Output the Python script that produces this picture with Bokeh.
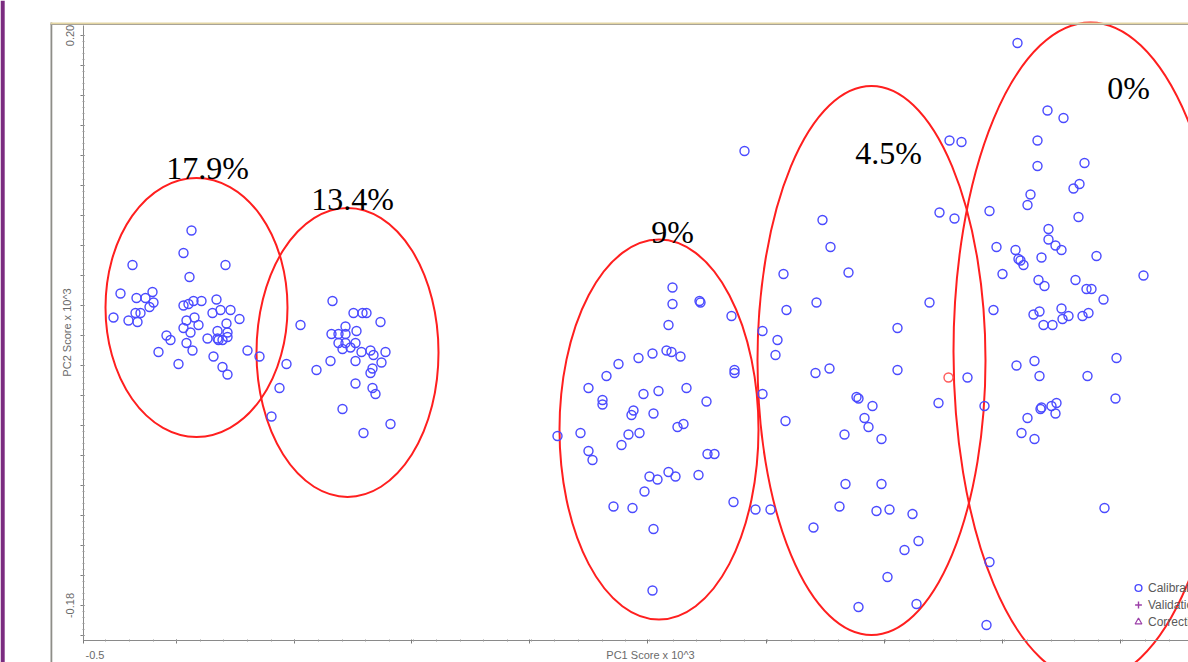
import numpy as np
from bokeh.plotting import figure
from bokeh.models import FixedTicker, BoxAnnotation, Legend, LegendItem, Range1d
from bokeh.embed import file_html
from bokeh.resources import INLINE
from bokeh.core.properties import value

# ---------------- data ----------------
calib_x = [
    -0.392, -0.400, -0.451, -0.358, -0.394, -0.463, -0.470, -0.447, -0.438, -0.431,
    -0.430, -0.434, -0.443, -0.448, -0.455, -0.446, -0.400, -0.395, -0.390, -0.382,
    -0.367, -0.371, -0.363, -0.353, -0.344, -0.397, -0.389, -0.385, -0.400, -0.393,
    -0.357, -0.366, -0.356, -0.417, -0.413, -0.376, -0.365, -0.361, -0.356, -0.366,
    -0.397, -0.391, -0.425, -0.405, -0.370, -0.361, -0.356, -0.336, -0.324, -0.297,
    -0.283, -0.304, -0.312, -0.267, -0.253, -0.251, -0.230, -0.221, -0.217, -0.203,
    -0.238, -0.227, -0.252, -0.245, -0.238, -0.245, -0.238, -0.241, -0.233, -0.228,
    -0.222, -0.213, -0.198, -0.210, -0.202, -0.228, -0.211, -0.213, -0.228, -0.211,
    -0.208, -0.241, -0.220, -0.193,
    0.089, 0.089, 0.116, 0.117, 0.148, 0.085, 0.083, 0.088, 0.097, 0.069,
    0.055, 0.035, 0.023, 0.005, 0.019, 0.019, 0.060, 0.075, 0.103, 0.123,
    0.151, 0.151, 0.050, 0.048, 0.070, 0.094, 0.100, 0.056, 0.045, -0.026,
    -0.003, 0.038, 0.005, 0.009, 0.124, 0.131, 0.066, 0.074, 0.085, 0.092,
    0.115, 0.061, 0.030, 0.049, 0.070, 0.150, 0.069,
    0.179, 0.179, 0.172, 0.187, 0.161, 0.239, 0.247, 0.265, 0.200, 0.233,
    0.203, 0.346, 0.194, 0.314, 0.192, 0.232, 0.246, 0.314, 0.273, 0.275,
    0.289, 0.355, 0.202, 0.281, 0.285, 0.261, 0.298, 0.262, 0.298, 0.256,
    0.293, 0.306, 0.329, 0.230, 0.335, 0.321, 0.304, 0.275, 0.333, 0.366,
    0.378, 0.356, 0.371,
    0.434, 0.464, 0.480, 0.454, 0.501, 0.454, 0.490, 0.496, 0.447, 0.444,
    0.406, 0.495, 0.465, 0.465, 0.472, 0.478, 0.413, 0.432, 0.458, 0.513,
    0.435, 0.437, 0.440, 0.560, 0.419, 0.455, 0.461, 0.492, 0.503, 0.508,
    0.520, 0.410, 0.450, 0.456, 0.478, 0.479, 0.485, 0.499, 0.505, 0.460,
    0.469, 0.533, 0.433, 0.451, 0.456, 0.504, 0.384, 0.401, 0.457, 0.458,
    0.468, 0.473, 0.472, 0.444, 0.438, 0.451, 0.532, 0.521, 0.406, 0.403,
]
calib_y = [
    0.070, 0.055, 0.047, 0.047, 0.039, 0.028, 0.012, 0.025, 0.025, 0.029,
    0.022, 0.019, 0.015, 0.015, 0.010, 0.009, 0.020, 0.021, 0.023, 0.023,
    0.024, 0.015, 0.017, 0.017, 0.011, 0.010, 0.012, 0.007, 0.005, 0.002,
    0.008, 0.003, 0.002, 0.000, -0.003, -0.002, -0.003, -0.003, -0.001, -0.002,
    -0.005, -0.010, -0.011, -0.019, -0.014, -0.021, -0.026, -0.010, -0.014, -0.019,
    0.007, -0.035, -0.054, -0.023, -0.017, 0.023, 0.015, 0.015, 0.015, 0.009,
    0.006, 0.003, 0.001, 0.001, 0.001, -0.005, -0.005, -0.009, -0.008, -0.005,
    -0.011, -0.010, -0.011, -0.013, -0.018, -0.017, -0.022, -0.025, -0.032, -0.035,
    -0.039, -0.049, -0.065, -0.059,
    0.032, 0.021, 0.023, 0.022, 0.013, 0.007, -0.010, -0.011, -0.014, -0.012,
    -0.015, -0.019, -0.027, -0.035, -0.043, -0.046, -0.039, -0.037, -0.035, -0.044,
    -0.023, -0.025, -0.050, -0.053, -0.052, -0.061, -0.059, -0.065, -0.066, -0.067,
    -0.065, -0.073, -0.077, -0.083, -0.079, -0.079, -0.094, -0.096, -0.091, -0.094,
    -0.093, -0.104, -0.114, -0.115, -0.129, -0.111, -0.170,
    0.003, -0.039, -0.116, -0.116, 0.123, 0.077, 0.059, 0.042, 0.041, 0.022,
    0.017, 0.022, -0.003, 0.005, -0.013, -0.025, -0.022, -0.023, -0.041, -0.042,
    -0.047, -0.045, -0.057, -0.055, -0.061, -0.066, -0.069, -0.099, -0.099, -0.114,
    -0.117, -0.116, -0.119, -0.128, -0.137, -0.143, -0.161, -0.181, -0.179, 0.130,
    0.129, 0.082, 0.078,
    0.195, 0.150, 0.145, 0.130, 0.115, 0.113, 0.098, 0.101, 0.094, 0.087,
    0.083, 0.079, 0.071, 0.064, 0.060, 0.057, 0.059, 0.057, 0.052, 0.053,
    0.051, 0.050, 0.047, 0.040, 0.041, 0.037, 0.033, 0.037, 0.031, 0.031,
    0.024, 0.017, 0.014, 0.016, 0.018, 0.011, 0.013, 0.013, 0.015, 0.007,
    0.007, -0.015, -0.020, -0.017, -0.027, -0.027, -0.028, -0.047, -0.049, -0.048,
    -0.047, -0.045, -0.052, -0.055, -0.065, -0.069, -0.042, -0.115, -0.151, -0.193,
]
flag_x = [0.365]
flag_y = [-0.028]

ellipse_x = [-0.387, -0.236, 0.0755, 0.288, 0.507]
ellipse_y = [0.0187, -0.0113, -0.0627, -0.0167, -0.0107]
ellipse_w = [0.182, 0.182, 0.199, 0.228, 0.274]
ellipse_h = [0.1727, 0.1927, 0.2533, 0.366, 0.4387]

pct_text = ["17.9%", "13.4%", "9%", "4.5%", "0%"]
pct_x = [-0.376, -0.231, 0.089, 0.305, 0.545]
pct_y = [0.1115, 0.091, 0.0687, 0.1217, 0.1647]

legend_labels = ["Calibration", "Validation", "Correction"]
x_title = "PC1 Score x 10^3"
y_title = "PC2 Score x 10^3"

x_major = [-0.5, -0.407, -0.289, -0.172, -0.054, 0.064, 0.183, 0.301, 0.419, 0.537]
x_start_label = "-0.5"
y_major = [round(-0.20 + 0.02 * i, 2) for i in range(21)]
y_tick_text = {0.2: "0.20", -0.18: "-0.18"}

# axis extents (data units)
X0, X1 = -0.5, 0.605
Y0, Y1 = -0.2033, 0.2067

# ---------------- figure ----------------
p = figure(width=1188, height=662, output_backend="svg", toolbar_location=None,
           x_range=Range1d(-0.583, 0.605), y_range=Range1d(-0.218, 0.2233),
           min_border_left=0, min_border_right=0, min_border_top=0, min_border_bottom=0,
           background_fill_color="white", border_fill_color="white")
p.grid.visible = False
p.outline_line_color = None

# window decoration: purple strip, grey left edge, tan/grey top edge
p.add_layout(BoxAnnotation(left=-0.583, right=-0.5788, bottom=-0.218, top=0.2233,
                           fill_color="#7b2c80", fill_alpha=1, line_color=None))
p.add_layout(BoxAnnotation(left=-0.533, right=-0.5312, bottom=-0.218, top=0.2087,
                           fill_color="#8e8d88", fill_alpha=1, line_color=None))
p.add_layout(BoxAnnotation(left=-0.533, right=0.605, bottom=0.2077, top=0.2087,
                           fill_color="#e3d5a3", fill_alpha=1, line_color=None))
p.add_layout(BoxAnnotation(left=-0.533, right=0.605, bottom=0.2069, top=0.2077,
                           fill_color="#a9a497", fill_alpha=1, line_color=None))

p.ellipse(x=ellipse_x, y=ellipse_y, width=ellipse_w, height=ellipse_h,
          fill_color=None, line_color="#ff1f1f", line_width=2)

r_cal = p.scatter(calib_x, calib_y, marker="circle", size=9, fill_color=None,
                  line_color="#4a4aff", line_width=1.4)
p.scatter(flag_x, flag_y, marker="circle", size=9, fill_color=None,
          line_color="#ff5a5a", line_width=1.4)
r_val = p.scatter(x=[float("nan")], y=[float("nan")], marker="cross", size=8,
                  line_color="#9b3fa8", line_width=1.4)
r_cor = p.scatter(x=[float("nan")], y=[float("nan")], marker="triangle", size=8,
                  fill_color=None, line_color="#9b3fa8", line_width=1.2)

p.text(x=pct_x, y=pct_y, text=pct_text, text_font=value("Liberation Serif"),
       text_font_size="32px", text_align="center", text_baseline="alphabetic",
       text_color="black")

# axis titles and the left-aligned start label of the x axis
p.text(x=[-0.517], y=[0.002], text=[y_title], angle=np.pi / 2,
       text_font=value("Liberation Sans"), text_font_size="11px",
       text_align="center", text_baseline="middle", text_color="#6a6a6a")
p.text(x=[0.067], y=[-0.2127], text=[x_title],
       text_font=value("Liberation Sans"), text_font_size="11px",
       text_align="center", text_baseline="middle", text_color="#6a6a6a")
p.text(x=[X0 + 0.002], y=[-0.2133], text=[x_start_label],
       text_font=value("Liberation Sans"), text_font_size="11px",
       text_align="left", text_baseline="middle", text_color="#6a6a6a")

legend = Legend(items=[LegendItem(label=legend_labels[0], renderers=[r_cal]),
                       LegendItem(label=legend_labels[1], renderers=[r_val]),
                       LegendItem(label=legend_labels[2], renderers=[r_cor])],
                location=(1128, 32), padding=0, margin=0, spacing=0,
                glyph_width=20, glyph_height=17, label_height=17, label_standoff=0,
                label_text_font="Liberation Sans", label_text_font_size="12px",
                label_text_color="#5a5a5a", background_fill_alpha=0,
                border_line_color=None)
p.add_layout(legend)

# axes, drawn inside the frame at the plot origin
xa = p.xaxis[0]
ya = p.yaxis[0]
xa.fixed_location = Y0
ya.fixed_location = X0
xa.bounds = (X0, X1)
ya.bounds = (Y0, Y1)
xa.ticker = FixedTicker(ticks=x_major,
                        minor_ticks=[round(-0.4778 + 0.02364 * i, 4) for i in range(47)])
ya.ticker = FixedTicker(ticks=y_major,
                        minor_ticks=[round(-0.2 + 0.004 * i, 3) for i in range(101)])
xa.major_label_overrides = {t: "" for t in x_major}
ya.major_label_overrides = {t: y_tick_text.get(t, "") for t in y_major}
ya.major_label_orientation = "vertical"
for ax in (xa, ya):
    ax.axis_line_color = "#8a8a8a"
    ax.major_tick_line_color = "#7a7a7a"
    ax.minor_tick_line_color = "#9a9a9a"
    ax.major_tick_out = 3
    ax.major_tick_in = 1
    ax.minor_tick_out = 1
    ax.minor_tick_in = 1
    ax.major_label_text_font = "Liberation Sans"
    ax.major_label_text_font_size = "11px"
    ax.major_label_text_color = "#6a6a6a"
xa.major_label_standoff = 3
ya.major_label_standoff = 6

open("out.html", "w").write(file_html(p, INLINE))
